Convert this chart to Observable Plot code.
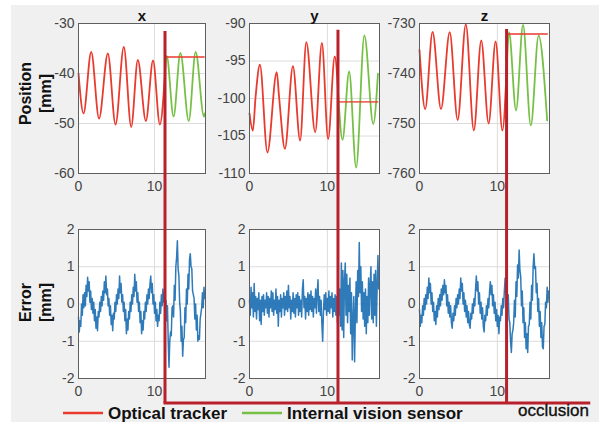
<!DOCTYPE html>
<html>
<head>
<meta charset="utf-8">
<script src="https://cdn.jsdelivr.net/npm/d3@7"></script>
<script src="https://cdn.jsdelivr.net/npm/@observablehq/plot@0.6"></script>
<style>
  html, body { margin: 0; padding: 0; background: #ffffff; }
  #wrap { position: relative; width: 605px; height: 425px; overflow: hidden; background: #ffffff; }
  #panel-bg { position: absolute; left: 11px; top: 5px; width: 588px; height: 417px; background: #f0f0f0; }
  #wrap svg { position: absolute; }
</style>
</head>
<body>
<div id="wrap"><div id="panel-bg"></div></div>
<script>
// ---------------- DATA ----------------
const T_MAX = 16.7;
const sampleStep = 0.1;          // error signals sampled every 0.1 s
const xTicks = [0, 10];
const errTicks = [-2, -1, 0, 1, 2];
const panelTitles = ["x", "y", "z"];
const yLabelTop = "Position\n[mm]";
const yLabelBottom = "Error\n[mm]";
const legendLabels = ["Optical tracker", "Internal vision sensor"];
const occlusionLabel = "occlusion";

// Position x
const posTicks_x = [-60, -50, -40, -30];
const posRedT_x = [0, 0.66, 1.67, 2.7, 3.86, 4.87, 5.96, 6.93, 7.8, 8.86, 9.8, 10.7, 11.44];
const posRedV_x = [-40, -48, -35.7, -49, -36, -50.2, -34.7, -50.7, -37.3, -49.5, -37.4, -50.2, -38.5];
const posGreenT_x = [11.44, 11.6, 12.5, 13.4, 14.5, 15.4, 16.5, 16.6];
const posGreenV_x = [-38.5, -36.5, -48.6, -35.9, -49.5, -35.7, -48.6, -48];
const holdT_x = [11.6, 16.5];
const holdV_x = [-36.7, -36.7];

// Position y
const posTicks_y = [-110, -105, -100, -95, -90];
const posRedT_y = [0, 0.43, 0.78, 1.34, 2.3, 3.5, 3.8, 4.55, 5.58, 6.5, 7.3, 8.44, 9.3, 10.1, 10.95, 11.43];
const posRedV_y = [-102, -104.3, -99.8, -95.5, -107.2, -96.5, -99.8, -106.7, -95.7, -105.6, -92.5, -104.5, -92.6, -105.4, -94.4, -100];
const posGreenT_y = [11.43, 11.95, 12.8, 13.7, 14.76, 15.9, 16.5];
const posGreenV_y = [-100, -105.5, -96.4, -109.2, -91.6, -103.4, -96.7];
const holdT_y = [11.6, 16.45];
const holdV_y = [-100.45, -100.45];

// Position z
const posTicks_z = [-760, -750, -740, -730];
const posRedT_z = [0, 0.73, 1.68, 2.76, 3.88, 4.9, 5.95, 6.98, 7.93, 8.88, 9.78, 10.65, 11.25];
const posRedV_z = [-735.3, -747.1, -731.7, -747.1, -731.75, -749.3, -730.2, -751.4, -733.4, -750, -733.6, -751.4, -737];
const posGreenT_z = [11.25, 11.5, 12.4, 13.3, 14.3, 15.3, 16.4];
const posGreenV_z = [-737, -731.75, -747.4, -730.3, -750.4, -732.4, -749.4];
const holdT_z = [11.4, 16.4];
const holdV_z = [-732.1, -732.1];

// Error signals (t = index * sampleStep)
const err_x = [
 -0.35,-0.75,-0.45,-0.6,0,-0.3,0.25,-0.1,0.3,-0.05,
 0.5,0.2,0.72,0.35,0.6,0.05,0.35,-0.15,0.15,-0.25,
 0.05,-0.45,-0.15,-0.65,-0.35,-0.72,-0.2,-0.35,0.05,-0.2,
 0.2,-0.05,0.35,0.1,0.6,0.3,0.75,0.25,0.4,-0.05,
 0.15,-0.3,-0.05,-0.55,-0.3,-0.72,-0.25,-0.4,0.05,-0.2,
 0.25,0,0.4,0.15,0.75,0.3,0.55,0.05,0.25,-0.2,
 0.05,-0.45,-0.15,-0.8,-0.4,-0.7,-0.2,-0.4,0.05,-0.2,
 0.25,0,0.45,0.2,0.8,0.35,0.6,0.05,0.3,-0.2,
 0.05,-0.5,-0.2,-0.8,-0.45,-0.7,-0.2,-0.4,0.05,-0.2,
 0.25,0,0.4,0.15,0.55,0.75,0.3,0.55,0,0.25,
 -0.25,0.05,-0.45,-0.15,-0.6,-0.3,-0.45,0.05,-0.25,0.25,
 -0.05,0.4,0.05,0.3,-0.2,0.1,-0.45,-0.05,-1.0,-1.7,
 -1.0,-0.75,-0.85,-0.1,-0.05,-0.35,0.5,0.1,1.0,1.25,
 1.7,0.95,0.75,0.05,-0.2,-1.0,-0.6,-1.4,-0.95,-0.9,
 -0.1,-0.5,0.4,0,0.8,0.4,1.2,1.35,1.0,0.95,
 0.35,0.25,0.15,-0.4,0,-0.7,-0.3,-1.0,-0.85,-0.95,
 -0.4,-0.25,-0.1,0.3,-0.1,0.45,0.15
];
const err_y = [
 0.1,-0.3,0.45,-0.1,0.3,-0.35,0.55,-0.2,0.2,-0.4,
 0.15,-0.15,0.3,-0.45,0.1,-0.55,0.2,-0.2,0.25,-0.3,
 0.1,-0.1,0.3,-0.25,0.2,-0.35,0.15,-0.1,0.35,-0.2,
 0.3,-0.3,0.1,-0.15,0.4,-0.25,0.2,-0.6,0.1,-0.2,
 0.25,-0.35,0.15,-0.1,0.3,-0.3,0.2,-0.15,0.35,-0.2,
 0.5,-0.1,0.2,-0.4,0.1,-0.2,0.3,-0.25,0.15,-0.35,
 0.25,-0.1,0.3,-0.3,0.2,-0.2,0.1,-0.35,0.4,0.65,
 -0.1,0.2,-0.4,0.15,-0.2,0.3,-0.3,0.25,-0.15,0.35,
 -0.2,0.2,-0.35,0.15,-0.1,0.4,-0.25,0.3,0.65,-0.2,
 0.2,-0.3,0.1,-0.55,-1.0,-0.2,0.25,-0.15,0.3,-0.3,
 0.15,-0.2,0.35,-0.25,0.2,-0.1,0.3,-0.35,0.15,-0.2,
 0.25,-0.3,0.2,-0.5,0.1,-0.3,0.4,-0.6,1.1,-0.7,
 0.9,-0.9,0.6,1.1,-0.3,0.8,-0.5,0.5,-0.2,0.7,
 -0.8,0.3,-1.5,-0.4,0.2,-1.55,-0.3,0.6,-0.5,0.9,
 0.2,1.65,0.3,1.0,-0.2,0.6,-0.4,0.3,-0.6,0.4,
 -0.8,0.2,-0.5,0.7,-0.3,0.5,1.0,-0.4,0.6,-0.5,
 0.8,-0.3,0.9,-0.6,0.5,1.3,0.4
];
const err_z = [
 -0.15,-0.6,-0.3,-0.5,-0.05,-0.3,0.15,-0.15,0.25,0,
 0.45,0.15,0.7,0.3,0.55,0,0.3,-0.2,0.05,-0.45,
 -0.2,-0.55,-0.05,-0.35,0.15,-0.15,0.25,-0.05,0.4,0.1,
 0.5,0.25,0.65,0.3,0.5,-0.05,0.25,-0.25,0.05,-0.35,
 -0.05,-0.5,-0.65,-0.25,-0.45,-0.05,-0.3,0.15,-0.1,0.25,
 0,0.4,0.15,0.7,0.35,0.55,0,0.3,-0.2,0.1,
 -0.35,-0.05,-0.5,-0.2,-0.55,-0.65,-0.25,-0.4,0,-0.25,
 0.15,-0.05,0.4,0.75,0.35,0.6,0,0.3,-0.25,0.05,
 -0.4,-0.1,-0.6,-0.75,-0.3,-0.45,-0.05,-0.3,0.15,-0.1,
 0.35,0.6,0.25,0.5,-0.05,0.25,-0.25,0.05,-0.45,-0.15,
 -0.6,-0.3,-0.8,-0.35,-0.45,-0.05,-0.3,0.15,-0.1,0.35,
 0.7,0.3,0.55,0,0.25,-0.4,-0.5,-1.0,-1.3,-0.8,
 -0.7,-0.5,0.1,-0.35,0.6,0.2,1.05,0.7,1.45,0.9,
 0.75,-0.05,0.35,-0.5,-0.1,-0.9,-0.5,-1.2,-0.8,-1.3,
 -0.6,-0.55,0.05,-0.4,0.5,0.1,1.0,1.35,0.95,1.0,
 0.3,0.55,-0.2,0.15,-0.6,-0.2,-0.9,-0.5,-1.15,-1.2,
 -0.6,-0.55,0.05,-0.1,0.45,0.05,0.35
];

// occlusion marker (time of occlusion per axis, top of marker on position axis)
const occT = [11.44, 11.43, 11.25];
const occTop = [-31.6, -90.9, -731.2];
const occBaseErr = -2.67;   // level (on error axis) of the horizontal occlusion bar
const occEndT = 22.0;       // right end of the bar, on the z-panel time axis

// ---------------- STYLE ----------------
const FONT = "'Liberation Sans', Arial, Helvetica, sans-serif";
const RED = "#e93a2e";
const GREEN = "#77c046";
const BLUE = "#1269b0";
const OCC = "#b8202a";

// ---------------- DRAW ----------------
const wrap = document.getElementById("wrap");
const fmt = d => String(d);

function panel({left, top, ml, mt, w, h, yDomain, yTicks, title, ylabel, ylabelDy, marks}) {
  const mr = 6, mb = 26;
  const p = Plot.plot({
    width: ml + w + mr, height: mt + h + mb,
    marginLeft: ml, marginTop: mt, marginRight: mr, marginBottom: mb,
    style: {background: "none", fontFamily: FONT, fontSize: "14px", overflow: "visible"},
    x: {domain: [0, T_MAX]},
    y: {domain: yDomain},
    marks: [
      Plot.frame({fill: "white", stroke: "none"}),
      Plot.gridX(xTicks, {stroke: "#dcdcdc", strokeOpacity: 1}),
      Plot.gridY(yTicks, {stroke: "#dcdcdc", strokeOpacity: 1}),
      ...marks,
      Plot.frame({stroke: "#5e5e5e", strokeWidth: 1}),
      Plot.axisX(xTicks, {tickSize: 0, tickPadding: 8, label: null, color: "#444", fontSize: 14, tickFormat: fmt}),
      Plot.axisY(yTicks, {tickSize: 0, tickPadding: 4, label: null, color: "#444", fontSize: 14, tickFormat: fmt}),
      title ? Plot.text([title], {text: d => d, frameAnchor: "top", lineAnchor: "bottom", dy: -3, fontWeight: "bold", fontSize: 15, fill: "#111"}) : null,
      ylabel ? Plot.text([ylabel], {text: d => d, frameAnchor: "left", textAnchor: "middle", lineAnchor: "middle", rotate: -90, dx: -43.5, dy: ylabelDy, fontWeight: "bold", fontSize: 16, lineHeight: 1.25, fill: "#111"}) : null
    ]
  });
  p.style.left = left + "px";
  p.style.top = top + "px";
  wrap.appendChild(p);
  return {plot: p, left, top};
}

function posMarks(rT, rV, gT, gV, hT, hV) {
  return [
    Plot.line(gV, {x: gT, y: d => d, stroke: GREEN, strokeWidth: 1.8, curve: "monotone-x"}),
    Plot.line(rV, {x: rT, y: d => d, stroke: RED, strokeWidth: 1.8, curve: "monotone-x"}),
    Plot.line(hV, {x: hT, y: d => d, stroke: RED, strokeWidth: 1.8, strokeOpacity: 0.75})
  ];
}
function errMarks(e) {
  return [Plot.lineY(e, {x: (d, i) => i * sampleStep, y: d => d, stroke: BLUE, strokeWidth: 1.5, strokeOpacity: 0.88})];
}

const cols = [
  {left: 0, ml: 78, w: 127},
  {left: 204, ml: 45, w: 130},
  {left: 374, ml: 45, w: 130}
];
const posSets = [
  [posRedT_x, posRedV_x, posGreenT_x, posGreenV_x, holdT_x, holdV_x, posTicks_x],
  [posRedT_y, posRedV_y, posGreenT_y, posGreenV_y, holdT_y, holdV_y, posTicks_y],
  [posRedT_z, posRedV_z, posGreenT_z, posGreenV_z, holdT_z, holdV_z, posTicks_z]
];
const errSets = [err_x, err_y, err_z];

const topPanels = [], bottomPanels = [];
cols.forEach((c, i) => {
  const s = posSets[i];
  const ticks = s[6];
  topPanels.push(panel({
    left: c.left, top: 0, ml: c.ml, mt: 23, w: c.w, h: 150,
    yDomain: [ticks[0], ticks[ticks.length - 1]], yTicks: ticks,
    title: panelTitles[i], ylabel: i === 0 ? yLabelTop : null, ylabelDy: -5,
    marks: posMarks(s[0], s[1], s[2], s[3], s[4], s[5])
  }));
  bottomPanels.push(panel({
    left: c.left, top: 200, ml: c.ml, mt: 29, w: c.w, h: 149,
    yDomain: [-2, 2], yTicks: errTicks,
    title: null, ylabel: i === 0 ? yLabelBottom : null, ylabelDy: -1.5,
    marks: errMarks(errSets[i])
  }));
});

// ---------------- OVERLAY: occlusion markers + legend ----------------
const ov = d3.create("svg").attr("width", 605).attr("height", 425)
  .style("left", "0px").style("top", "0px").style("pointer-events", "none")
  .style("font-family", FONT);

const px = (pan, t) => pan.left + pan.plot.scale("x").apply(t);
const py = (pan, v) => pan.top + pan.plot.scale("y").apply(v);
const baseY = py(bottomPanels[0], occBaseErr);
occT.forEach((t, i) => {
  ov.append("line")
    .attr("x1", px(topPanels[i], t)).attr("x2", px(topPanels[i], t))
    .attr("y1", py(topPanels[i], occTop[i])).attr("y2", baseY)
    .attr("stroke", OCC).attr("stroke-width", 3);
});
ov.append("line")
  .attr("x1", px(topPanels[0], occT[0]) - 1.5).attr("x2", px(bottomPanels[2], occEndT))
  .attr("y1", baseY).attr("y2", baseY)
  .attr("stroke", OCC).attr("stroke-width", 3);

// legend
const legY = 413;
const leg = [
  {x0: 63, x1: 103, tx: 108, color: RED, label: legendLabels[0]},
  {x0: 242, x1: 282, tx: 287, color: GREEN, label: legendLabels[1]}
];
leg.forEach(l => {
  ov.append("line").attr("x1", l.x0).attr("x2", l.x1).attr("y1", legY).attr("y2", legY)
    .attr("stroke", l.color).attr("stroke-width", 2.5);
  ov.append("text").attr("x", l.tx).attr("y", 418.5).attr("font-size", 17).attr("font-weight", "bold")
    .attr("fill", "#111").text(l.label);
});
ov.append("text").attr("x", 518).attr("y", 416).attr("font-size", 17)
  .attr("fill", "#111").attr("stroke", "#111").attr("stroke-width", 0.35).text(occlusionLabel);

wrap.appendChild(ov.node());
</script>
</body>
</html>
